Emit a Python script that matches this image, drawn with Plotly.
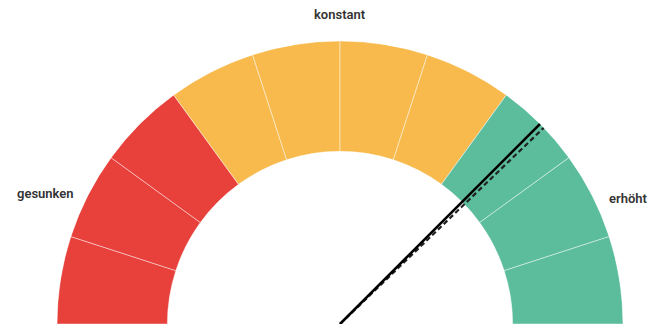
import plotly.graph_objects as go

# Gauge scale: 0 (left) .. 100 (right), split into ten equal segments
segment_count = 10
segment_groups = ["gesunken"] * 3 + ["konstant"] * 4 + ["erhöht"] * 3
group_colors = {"gesunken": "#E8403B", "konstant": "#F8BA4C", "erhöht": "#5BBD9C"}
band_inner = 0.61
band_outer = 1.0

# Needle readings on the 0..100 scale
needle_current = 75.0
needle_previous = 75.6

# Category labels shown around the dial
label_texts = ["gesunken", "konstant", "erhöht"]


def to_theta(value):
    return 180.0 - 1.8 * value


step = 100.0 / segment_count
seg_centers = [to_theta(step * (i + 0.5)) for i in range(segment_count)]
seg_width = 1.8 * step

fig = go.Figure()

fig.add_trace(go.Barpolar(
    theta=seg_centers,
    r=[band_outer - band_inner] * segment_count,
    base=[band_inner] * segment_count,
    width=[seg_width] * segment_count,
    marker=dict(
        color=[group_colors[g] for g in segment_groups],
        line=dict(color="rgba(255,255,255,0.45)", width=1),
    ),
    hoverinfo="skip",
    showlegend=False,
))

fig.add_trace(go.Scatterpolar(
    r=[0, band_outer],
    theta=[to_theta(needle_previous)] * 2,
    mode="lines",
    line=dict(color="#222222", width=2.2, dash="5px,3px"),
    hoverinfo="skip",
    showlegend=False,
))

fig.add_trace(go.Scatterpolar(
    r=[0, band_outer],
    theta=[to_theta(needle_current)] * 2,
    mode="lines",
    line=dict(color="#000000", width=2.6),
    hoverinfo="skip",
    showlegend=False,
))

label_font = dict(family="Roboto", size=13, color="#333333", weight=600)
label_positions = [(45, 193), (340, 15), (628, 199)]
W, H = 663, 324
for text, (px, py) in zip(label_texts, label_positions):
    fig.add_annotation(
        x=px / W, y=1 - py / H, xref="paper", yref="paper",
        text=text, showarrow=False, font=label_font,
        xanchor="center", yanchor="middle",
    )

fig.update_layout(
    width=W, height=H,
    margin=dict(l=0, r=0, t=0, b=0),
    paper_bgcolor="white",
    plot_bgcolor="white",
    polar=dict(
        domain=dict(x=[55 / W, 625 / W], y=[0, 1 - 41 / H]),
        sector=[0, 180],
        bgcolor="white",
        radialaxis=dict(range=[0, 1], visible=False, showgrid=False),
        angularaxis=dict(visible=False, showgrid=False),
        barmode="overlay",
    ),
)

fig.write_html("out.html")
